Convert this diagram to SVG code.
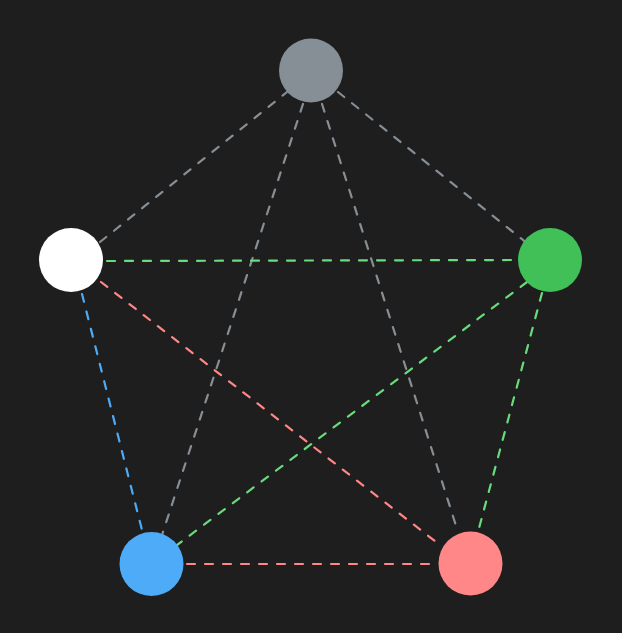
<svg xmlns="http://www.w3.org/2000/svg" width="622" height="633" viewBox="0 0 622 633">
<style>
.e{fill:none;stroke-width:2.2;stroke-dasharray:8 10;stroke-linecap:round}
.g{stroke:#868e96}.gr{stroke:#69db7c}.p{stroke:#ff8787}.b{stroke:#4dabf7}
</style>
<rect width="622" height="633" fill="#1e1e1e"/>
<g id="connectors">
<line class="e g" x1="100" y1="242" x2="287" y2="92"/>
<line class="e g" x1="338" y1="92" x2="528" y2="244"/>
<line class="e g" x1="303" y1="104" x2="162" y2="535"/>
<line class="e g" x1="322" y1="104" x2="458" y2="532"/>
<line class="e gr" x1="107" y1="261" x2="516" y2="260"/>
<line class="e p" x1="101" y1="282" x2="440" y2="545"/>
<line class="e b" x1="82" y1="294" x2="143" y2="534"/>
<line class="e gr" x1="527" y1="282" x2="177" y2="545"/>
<line class="e gr" x1="542" y1="293" x2="478" y2="532"/>
<line class="e p" x1="187" y1="564" x2="434" y2="564"/>
</g>
<g id="node-gray"><circle cx="311" cy="70.5" r="32" fill="#868e96"/></g>
<g id="node-white"><circle cx="71" cy="260" r="32" fill="#ffffff"/></g>
<g id="node-green"><circle cx="550" cy="260" r="32" fill="#40c057"/></g>
<g id="node-blue"><circle cx="151.5" cy="564" r="32" fill="#4dabf7"/></g>
<g id="node-pink"><circle cx="470.5" cy="563.5" r="32" fill="#ff8787"/></g>
</svg>
